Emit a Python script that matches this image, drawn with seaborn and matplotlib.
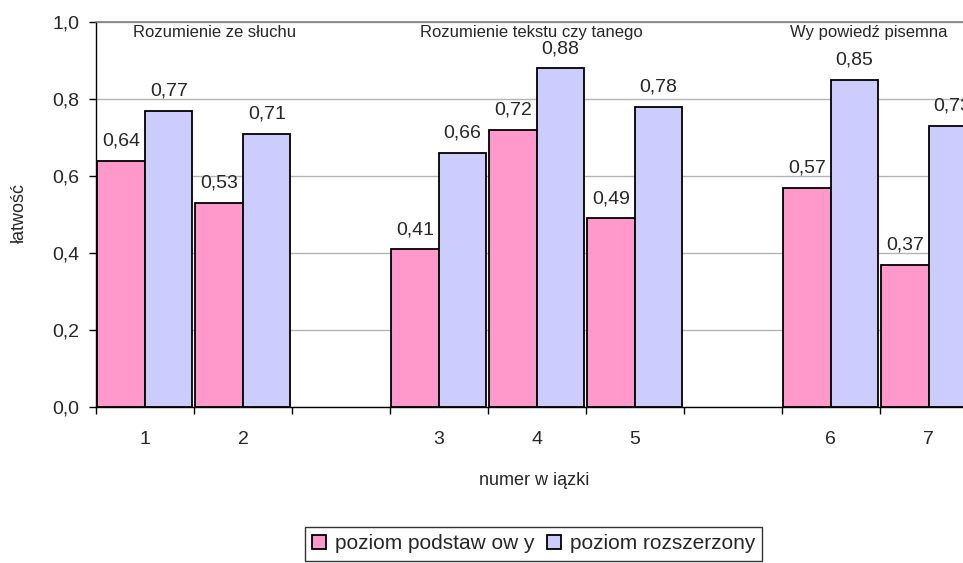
import matplotlib
matplotlib.use("Agg")
import matplotlib.pyplot as plt
import seaborn as sns
import pandas as pd

# Bundle numbers, with empty slots separating the three task groups
slots = ["1", "2", "", "3", "4", "5", " ", "6", "7"]
bundles = ["1", "2", "3", "4", "5", "6", "7"]
basic = [0.64, 0.53, 0.41, 0.72, 0.49, 0.57, 0.37]
extended = [0.77, 0.71, 0.66, 0.88, 0.78, 0.85, 0.73]
levels = ["poziom podstaw ow y", "poziom rozszerzony"]
groups = ["Rozumienie ze słuchu", "Rozumienie tekstu czy tanego", "Wy powiedź pisemna"]
group_x = [0.71, 3.94, 7.39]
yticks = [0.0, 0.2, 0.4, 0.6, 0.8, 1.0]

sns.set_theme(style="white")
plt.rcParams["font.family"] = ["Liberation Sans", "DejaVu Sans"]

df = pd.DataFrame({
    "wiazka": bundles * 2,
    "latwosc": basic + extended,
    "poziom": [levels[0]] * len(bundles) + [levels[1]] * len(bundles),
})

fig = plt.figure(figsize=(9.63, 5.63), dpi=100)
ax = fig.add_axes([96 / 963, (563 - 407) / 563, 867 / 963, 385 / 563])

sns.barplot(data=df, x="wiazka", y="latwosc", hue="poziom", order=slots,
            hue_order=levels, palette=["#FF99CC", "#CCCCFF"], width=0.97,
            edgecolor="black", linewidth=1.3, saturation=1, ax=ax, legend=True)

# value labels above each bar
for cont in ax.containers:
    ax.bar_label(cont, labels=[f"{v:.2f}".replace(".", ",") for v in cont.datavalues],
                 padding=8, fontsize=14)

ax.set_yticks(yticks)
ax.set_yticklabels([f"{t:.1f}".replace(".", ",") for t in yticks], fontsize=14)
ax.yaxis.grid(True, color="#B4B4B4", linewidth=1.0)
ax.set_axisbelow(True)

# category labels at slot centres, tick marks at slot boundaries
ax.set_xticks([i - 0.5 for i in range(10)])
ax.set_xticklabels([])
ax.set_xticks(range(len(slots)), minor=True)
ax.set_xticklabels(slots, minor=True, fontsize=14)
ax.tick_params(axis="x", which="major", length=5, width=1, color="black", direction="out", bottom=True)
ax.tick_params(axis="x", which="minor", length=0, pad=17)
ax.tick_params(axis="y", length=5, width=1, color="black", direction="out", left=True, pad=7)

ax.set_ylim(0, 1.0)
ax.set_xlim(-0.5, 8.35)

ax.spines["right"].set_visible(False)
ax.spines["top"].set_color("#808080")
ax.spines["top"].set_linewidth(1.2)
for side in ["left", "bottom"]:
    ax.spines[side].set_color("black")
    ax.spines[side].set_linewidth(1.0)

ax.set_xlabel("numer w iązki", fontsize=13)
ax.xaxis.set_label_coords(0.505, -0.19)
ax.xaxis.label.set_va("center")
ax.set_ylabel("łatwość", fontsize=13)
ax.yaxis.set_label_coords(-0.088, 0.504)
ax.yaxis.label.set_va("center")

for gx, g in zip(group_x, groups):
    ax.text(gx, 0.972, g, ha="center", va="center", fontsize=12)

handles, labs = ax.get_legend_handles_labels()
ax.legend_.remove()
leg = fig.legend(handles, labs, loc="upper center", bbox_to_anchor=(0.554, 0.064),
                 ncol=2, fontsize=15, frameon=True, fancybox=False, edgecolor="black",
                 handlelength=0.7, handleheight=0.7, handletextpad=0.4, columnspacing=0.6,
                 borderpad=0.35, borderaxespad=0)
leg.get_frame().set_linewidth(1.0)

fig.savefig("out.png", dpi=100)
